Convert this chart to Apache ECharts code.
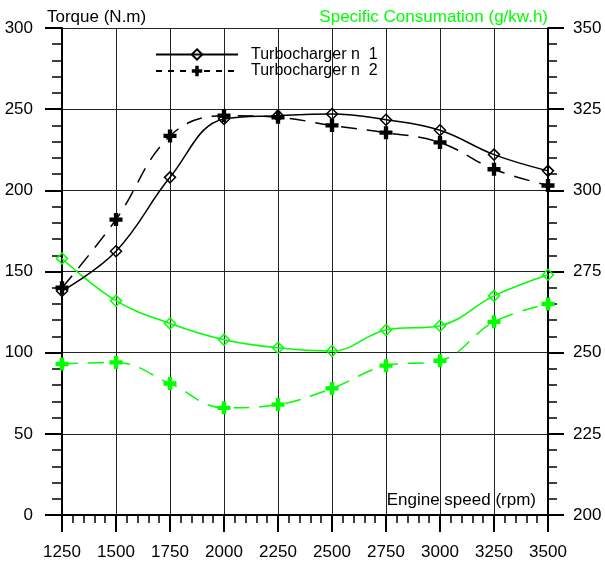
<!DOCTYPE html>
<html>
<head>
<meta charset="utf-8">
<script src="https://cdn.jsdelivr.net/npm/echarts@6/dist/echarts.min.js"></script>
<style>
html,body{margin:0;padding:0;background:#fff;}
#chart{width:605px;height:561px;}
</style>
</head>
<body>
<div id="chart"></div>
<script>
var speeds = [1250, 1500, 1750, 2000, 2250, 2500, 2750, 3000, 3250, 3500];
var torque1 = [138, 162.5, 208, 244, 246, 247, 243.5, 237, 222, 212];
var torque2 = [140, 182, 233.5, 246, 245, 240, 235.5, 229.5, 213, 203];
var cons1 = [279, 266, 259, 254, 251.5, 250.5, 257, 258.3, 267.5, 274];
var cons2 = [246.5, 247, 240.5, 233, 234, 239, 246, 247.5, 259.5, 265];
var seriesNames = ['Turbocharger n  1', 'Turbocharger n  2'];
var torqueTitle = 'Torque (N.m)';
var consTitle = 'Specific Consumation (g/kw.h)';
var speedTitle = 'Engine speed (rpm)';

var GREEN = '#00ff00';
var FONT = 'Liberation Sans, Arial, sans-serif';
var CROSS = 'path://M4,0 H8 V4 H12 V8 H8 V12 H4 V8 H0 V4 H4 Z';

function pairs(ys) { return speeds.map(function (x, i) { return [x, ys[i]]; }); }
function plain(v) { return String(v); }

var chart = echarts.init(document.getElementById('chart'), null, {renderer: 'canvas'});
chart.setOption({
  animation: false,
  backgroundColor: '#fff',
  textStyle: {fontFamily: FONT},
  grid: {left: 62, right: 57, top: 28, bottom: 46, containLabel: false},
  legend: {
    data: [
      {name: seriesNames[0]},
      {name: seriesNames[1], lineStyle: {type: [6, 6]}}
    ],
    orient: 'vertical',
    left: 155, top: 46.5, padding: 0,
    itemWidth: 82, itemHeight: 13, itemGap: 0.5,
    textStyle: {fontFamily: FONT, fontSize: 16, color: '#000', padding: [0, 0, 0, 8]},
    selectedMode: false
  },
  graphic: [
    {type: 'text', left: 47, top: 9, style: {text: torqueTitle, font: '17px ' + FONT, fill: '#000'}},
    {type: 'text', right: 57, top: 9, style: {text: consTitle, font: '17px ' + FONT, fill: GREEN}},
    {type: 'text', right: 69, top: 492, style: {text: speedTitle, font: '17px ' + FONT, fill: '#000'}}
  ],
  xAxis: {
    type: 'value', min: 1250, max: 3500, interval: 250,
    axisLine: {show: true, onZero: false, lineStyle: {color: '#000', width: 2}},
    axisTick: {show: true, length: 17, lineStyle: {color: '#000', width: 2}},
    minorTick: {show: true, splitNumber: 5, length: 8, lineStyle: {color: '#000', width: 1.5}},
    axisLabel: {margin: 29, fontSize: 17, color: '#000', fontFamily: FONT, formatter: plain},
    splitLine: {show: true, lineStyle: {color: '#222', width: 1}}
  },
  yAxis: [
    {
      type: 'value', min: 0, max: 300, interval: 50, position: 'left',
      axisLine: {show: true, lineStyle: {color: '#000', width: 2}},
      axisTick: {show: true, length: 17, lineStyle: {color: '#000', width: 2}},
      minorTick: {show: true, splitNumber: 5, length: 10, lineStyle: {color: '#000', width: 1.5}},
      axisLabel: {margin: 29, fontSize: 17, color: '#000', fontFamily: FONT, formatter: plain},
      splitLine: {show: true, lineStyle: {color: '#222', width: 1}}
    },
    {
      type: 'value', min: 200, max: 350, interval: 25, position: 'right',
      axisLine: {show: true, lineStyle: {color: '#000', width: 2}},
      axisTick: {show: true, length: 16, lineStyle: {color: '#000', width: 2}},
      minorTick: {show: true, splitNumber: 5, length: 9, lineStyle: {color: '#000', width: 1.5}},
      axisLabel: {margin: 25, fontSize: 17, color: '#000', fontFamily: FONT, formatter: plain},
      splitLine: {show: false}
    }
  ],
  series: [
    {
      name: seriesNames[0], type: 'line', yAxisIndex: 0, data: pairs(torque1), smooth: 0.4,
      symbol: 'diamond', symbolSize: 11,
      itemStyle: {color: 'rgba(255,255,255,0)', borderColor: '#000', borderWidth: 1.5},
      lineStyle: {color: '#000', width: 1.5, type: 'solid'}, z: 5
    },
    {
      name: seriesNames[1], type: 'line', yAxisIndex: 0, data: pairs(torque2), smooth: 0.4,
      symbol: CROSS, symbolSize: 13,
      itemStyle: {color: '#000', borderWidth: 0},
      lineStyle: {color: '#000', width: 1.5, type: [16, 10]}, z: 5
    },
    {
      name: 'cons1', type: 'line', yAxisIndex: 1, data: pairs(cons1), smooth: 0.4,
      symbol: 'diamond', symbolSize: 11,
      itemStyle: {color: 'rgba(255,255,255,0)', borderColor: GREEN, borderWidth: 1.5},
      lineStyle: {color: GREEN, width: 1.5, type: 'solid'}, z: 4
    },
    {
      name: 'cons2', type: 'line', yAxisIndex: 1, data: pairs(cons2), smooth: 0.4,
      symbol: CROSS, symbolSize: 13,
      itemStyle: {color: GREEN, borderWidth: 0},
      lineStyle: {color: GREEN, width: 1.5, type: [16, 10]}, z: 4
    }
  ]
});
</script>
</body>
</html>
